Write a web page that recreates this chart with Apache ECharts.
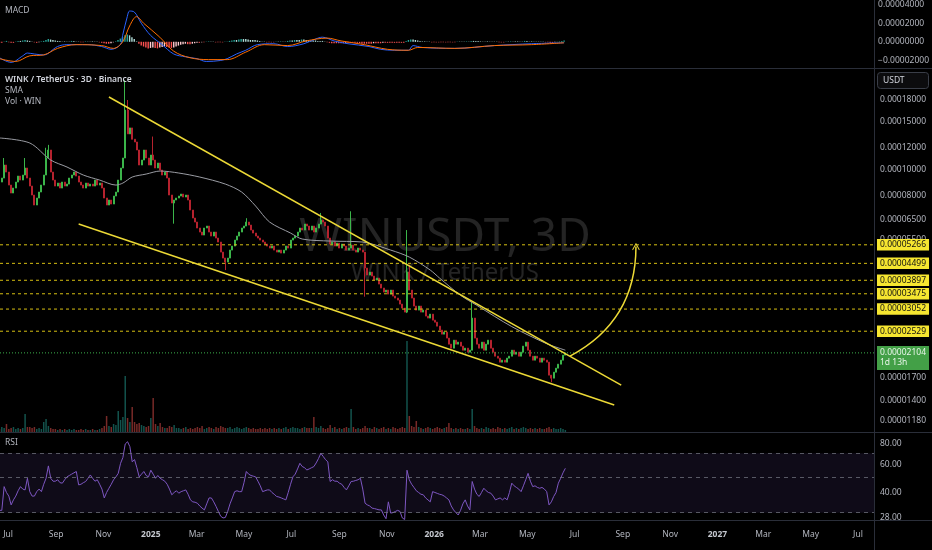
<!DOCTYPE html>
<html><head><meta charset="utf-8">
<script src="https://cdn.jsdelivr.net/npm/echarts@6/dist/echarts.min.js"></script>
<style>html,body{margin:0;padding:0;background:#000;}#c{width:932px;height:550px;}</style>
</head><body><div id="c"></div>
<script>
// ---- data (prices in units of 1e-8 USDT) ----
const startDate = '2024-06-20';
const stepDays = 3;
const firstOpen = 9100;
const closes = [8970,9280,10364,9765,8744,8172,8525,8970,9439,9123,
9520,10104,9280,8671,8034,7380,7832,8241,8744,9520,
11000,11772,9765,9123,8671,8894,8525,8970,8671,8818,
9280,9520,9765,9439,8970,8744,8525,8894,8671,8818,
8671,9123,8744,8894,8525,7832,7380,7700,7443,7966,
8241,9123,10104,11000,16535,13500,14200,12900,12603,11772,
10364,10813,11772,11000,10364,11284,10813,10104,10542,9932,
9520,9765,9280,8034,7507,7700,7832,7966,8102,7899,
8034,7700,7073,6609,6388,6071,5868,5720,6071,6175,
5868,5672,5868,5576,5390,4950,4705,4548,4705,5035,
5210,5482,5672,5868,6071,6175,6388,6227,5968,5818,
5672,5576,5482,5390,5299,5210,5122,5210,5035,4950,
5035,4909,5035,5210,5122,5482,5576,5672,5868,6071,
5968,6280,6175,5968,6175,5868,6071,6280,6497,6388,
6175,5576,5299,5390,5210,5344,5122,5299,5210,5035,
5122,5254,5035,4950,5122,5035,4950,4322,4073,4178,
4038,3903,3970,3773,3647,3525,3585,3465,3585,3407,
3350,3293,3183,3077,2974,4178,3585,3350,3130,3025,
3130,2974,3025,2875,2827,2924,2778,2731,2640,2552,
2467,2509,2385,2266,2190,2344,2266,2305,2228,2153,
2190,2117,2153,2827,2385,2266,2190,2305,2153,2266,
2344,2190,2117,2046,2012,1945,1978,1945,2012,2046,
2153,2081,2117,2046,2117,2228,2305,2153,2046,1978,
2046,2012,1945,2012,1978,1945,1742,1698,1786,1848,
1912,1978,2064,2104];
const wickHighIdx = [2,11,20,21,54,55,66,106,138,151,175,176,203];
const wickHighVal = [11000,11000,12000,12300,21300,18000,13200,6600,6900,7000,5968,4450,3240];
const wickLowIdx = [75,97,157,175,237];
const wickLowVal = [6300,4249,3390,2950,1640];
const volumes = [3,5,4,8,3,4,5,3,4,3,
4,18,5,5,4,5,3,4,3,10,
13,6,4,3,3,2,3,2,3,2,
3,2,3,2,2,3,2,3,2,2,
3,2,2,3,4,6,16,6,5,8,
7,21,12,15,56,14,10,25,10,8,
9,7,6,5,6,14,34,8,6,9,
5,4,4,6,5,7,4,4,3,4,
5,3,4,3,4,5,4,6,3,4,
5,4,3,5,4,6,5,4,4,5,
3,4,5,4,3,4,5,4,3,4,
3,3,4,3,4,3,4,3,4,3,
4,3,4,5,3,4,5,4,4,3,
4,5,4,4,4,15,5,4,6,4,
3,4,7,4,5,3,4,3,4,5,
4,23,5,3,4,3,4,6,4,4,
3,5,4,3,4,5,3,4,3,5,
4,3,4,5,4,91,16,6,5,11,
5,4,3,4,5,4,3,4,5,4,
3,4,5,9,4,3,4,3,4,3,
3,4,3,23,6,4,3,4,3,5,
4,3,4,3,5,4,3,4,3,4,
5,3,4,3,4,5,4,3,4,3,
4,3,4,3,3,4,5,3,4,3,
3,4,3,2];
const rsi = [31,31,43.5,40,38,33.5,36,38,41,43.5,
42,41.5,49,40.5,38,38,40.5,42,40.5,45,
49,58.5,49,47,47,48,46,45.7,48,50,
51,52,53,54,44.6,45,46,46.8,49,51.4,
49,47,48,45,42,37,40,42.5,45,48,
50,52.6,60.7,66,80,82.6,77,62,64,57,
50,52,54,51,50,55,52,49,51,49,
48,47,45,42,38.7,40,41,39.6,40.5,41,
41.5,39,36,35,34.8,34.3,33,32,31.2,34,
37,37,35,32.8,30.5,28.5,27.8,28,30.5,34,
37,40.5,41,40.5,40.5,46,54,52,51,50.5,
50,47,44,40.5,41,41.5,41.5,40,39,37.8,
37.5,37,36.5,36,40,45,50,52,56,60.7,
58,57,55.2,56,57,57.9,61,65,70,67,
64,62,46.8,48,47,47,45.7,45,43,41.5,
44,46.8,47,47.5,48,49,42,34.3,33.5,33,
32,31.8,31.5,31.2,31.2,29,27.5,35,29.8,30,
30.5,31,30.5,27.8,27.2,55,47.9,45,43,41,
40,39,38.7,37,36,35,40.5,40,39.5,39,
38.7,38,37,36,33,31.2,30,29,31,34,
36,33,31.2,46.8,42,39,37.8,40,42.5,41,
40,39.6,38,36,36.5,37,36,37,36,40,
45.7,44,43,42,40.5,44,48,52.6,47,43.5,
44,43,42.5,43,42,40.5,33.5,35,37.8,40,
45.7,49,53,56.5];
// MACD values in units of 1e-6
const macdIdx = [0,5,10,12,15,19,25,29,38,44,48,52,53,55,56,58,61,65,70,75,80,85,89,95,98,102,106,111,118,124,131,136,139,144,150,159,164,170,176,178,182,196,213,229,243];
const macdVal = [-17,-22,-15,-12,-13,-14,-5,-3,-3,-5,-8,-3,7,27,33,32,20,7,-3,-13,-16,-18,-21,-20,-18,-13,-9,-3,-2,-5,-2,3,5,1,-2,-5,-8,-9,-9,-4,-6,-7,-4,-2,-1];
const signalIdx = [0,7,13,19,25,33,44,49,53,56,59,62,69,75,82,90,98,106,114,124,132,141,147,157,167,176,180,196,213,229,243];
const signalVal = [-18,-21,-15,-14,-7,-3,-4,-7,0,17,27,20,5,-10,-17,-19,-19,-11,-3,-4,1,4,1,-3,-8,-9,-6,-7,-4,-3,-1];
const histVal = [-1,-1,0.5,1,-0.5,-1,-1,0.5,1,1,
1.5,2,1.5,1,0.5,-0.5,-1,-0.5,0.5,1,
2,3,2.5,2,1.5,1,1,0.5,0.5,0.5,
0.5,1,1,0.5,0.3,-0.5,-0.5,0.5,0.5,0.5,
0.5,0.5,0.3,-0.5,-1,-1.5,-2,-2,-1.5,-0.5,
0.5,2,3.5,5,7,8,7,5,3,0.5,
-2,-4,-5,-6,-7,-6.5,-6,-6.5,-7,-6,
-5.5,-5,-5.5,-6,-6.5,-6,-5,-4,-3,-2.5,
-2,-2.5,-2.5,-2,-1.5,-1,-1,-0.5,-0.5,0.3,
0.5,0.5,0.3,-0.5,-0.5,-0.5,-0.5,0.3,0.5,1,
1.5,2,2,2.5,3,3,3,2.5,2,2,
2,1.5,1,0.5,0.3,-0.5,-0.5,-0.5,-0.5,0.3,
0.3,0.5,0.5,0.5,1,1.5,1.5,2,2,2,
2.5,2.5,2,2,1.5,1.5,1.5,1,1,1,
0.5,-0.5,-1,-1.5,-1.5,-1.5,-1.5,-1.5,-1.5,-1,
-1,-1,-1,-1,-1,-1.5,-2,-2,-2,-2,
-2,-1.5,-1.5,-1.5,-1.5,-1,-1,-1,-1,-1,
-1,-1,-1,-1,-1,1,2,2.5,2.5,2,
1.5,1,0.5,0.5,0.3,0.3,-0.5,-0.5,-0.5,-0.5,
-0.5,-0.5,-0.5,-0.5,-0.5,-0.5,-0.5,0.3,0.3,0.3,
0.3,0.5,0.5,1,1,1,1,0.5,0.5,0.5,
0.5,0.5,0.3,0.3,0.3,-0.5,-0.5,-0.5,0.3,0.3,
0.5,0.5,0.5,0.5,0.5,0.5,1,1,0.5,0.5,
0.5,0.3,0.3,0.3,0.3,-0.5,-0.5,-1,-1,-0.5,
0.3,0.5,1,1.5];
const smaIdx = [0,13,22,29,36,43,50,53,57,63,69,77,86,97,104,110,116,125,130,142,156,168,176,185,189,198,205,220,235,243];
const smaVal = [13040,12496,10813,10190,9520,9123,8744,8894,9360,9600,9850,9685,9360,8818,8241,7318,6388,5818,5530,5436,5390,5035,4745,4249,3970,3430,3150,2630,2275,2153];
const priceTicks = [18000,15000,12000,10000,8000,6500,5500,1700,1400,1180];
const levels = [5266,4499,3897,3475,3052,2529];
const lastPrice = 2104;
const lastCountdown = '1d 13h';
const macdTicks = [-20,0,20,40];
const rsiTicks = [80,60,40,28];
const rsiBands = [70,50,30];
const monthTicks = ['2024-07-01','2024-09-01','2024-11-01','2025-01-01','2025-03-01','2025-05-01','2025-07-01','2025-09-01','2025-11-01','2026-01-01','2026-03-01','2026-05-01','2026-07-01','2026-09-01','2026-11-01','2027-01-01','2027-03-01','2027-05-01','2027-07-01'];
const trendUpper = [['2024-11-08',18464],['2026-08-30',1600]];
const trendLower = [['2024-09-30',6280],['2026-08-21',1351]];
const arrowPath = [['2026-06-25',2046],['2026-09-18',5188]];

// ---- build ----
const DAY = 864e5;
const t = s => Date.parse(s + 'T00:00:00Z');
const t0 = t(startDate);
const dates = closes.map((_, i) => t0 + i * stepDays * DAY);
const xMin = t0 + 16 * 3600e3;
const xMax = xMin + 1126 * DAY;
const fmtP = v => (v / 1e8).toFixed(8);
const MONTHS = ['Jan','Feb','Mar','Apr','May','Jun','Jul','Aug','Sep','Oct','Nov','Dec'];
const UP = '#3bb54a', DOWN = '#b5222e';
const YEL = '#ecd936';
const LVL = '#d6bf12';
const FONT = 'Noto Sans, sans-serif';
const AX = '#b2b5be';

const candles = closes.map((c, i) => {
  const o = i === 0 ? firstOpen : closes[i - 1];
  let hi = Math.max(o, c), lo = Math.min(o, c);
  const hk = wickHighIdx.indexOf(i); if (hk >= 0) hi = wickHighVal[hk];
  const lk = wickLowIdx.indexOf(i); if (lk >= 0) lo = wickLowVal[lk];
  return [dates[i], o, c, lo, hi];
});
const volData = volumes.map((v, i) => ({
  value: [dates[i], v],
  itemStyle: { color: candles[i][2] >= candles[i][1] ? 'rgba(38,166,154,0.5)' : 'rgba(239,83,80,0.5)' }
}));
const histData = histVal.map((h, i) => {
  const p = i === 0 ? h : histVal[i - 1];
  const col = h >= 0 ? (h > p ? '#26a69a' : '#b2dfdb') : (h > p ? '#ffcdd2' : '#ff5252');
  return { value: [dates[i], h], itemStyle: { color: col } };
});
const pts = (idx, val) => idx.map((k, j) => [dates[k], val[j]]);
const CLEAR = 'rgba(0,0,0,0)';
const tickLabel = { show: true, position: 'end', distance: 6, color: AX, fontSize: 8.5, fontFamily: FONT };

// horizontal level lines as full-width line series (value across the whole axis range)
const hLine = (v, color, dash, z) => ({
  type: 'line', xAxisIndex: 1, yAxisIndex: 1, silent: true, showSymbol: false, z: z,
  data: [[xMin, v], [xMax, v]], lineStyle: { color: color, type: dash, width: 1 }, itemStyle: { color: color }
});
const levelSeries = levels.map(v => hLine(v, LVL, [3, 3], 5));
const lastSeries = hLine(lastPrice, '#3cb04c', [1, 2], 5);

const xBase = { type: 'value', min: xMin, max: xMax, show: false };
const chart = echarts.init(document.getElementById('c'), null, { renderer: 'canvas' });
chart.setOption({
  backgroundColor: '#000',
  animation: false,
  textStyle: { fontFamily: FONT },
  grid: [
    { left: 0, right: 58, top: 0, height: 68 },
    { left: 0, right: 58, top: 69, height: 363 },
    { left: 0, right: 58, top: 332, height: 100 },
    { left: 0, right: 58, top: 433, height: 87 }
  ],
  xAxis: [
    Object.assign({ gridIndex: 0 }, xBase),
    Object.assign({ gridIndex: 1 }, xBase),
    Object.assign({ gridIndex: 2 }, xBase),
    { gridIndex: 3, type: 'value', min: xMin, max: xMax,
      axisLine: { show: false }, axisTick: { show: false }, splitLine: { show: false },
      axisLabel: {
        customValues: monthTicks.map(t), margin: 10, color: AX, fontSize: 8.5, fontFamily: FONT,
        formatter: v => { const d = new Date(v); const m = d.getUTCMonth(); return m === 0 ? '{y|' + d.getUTCFullYear() + '}' : MONTHS[m]; },
        rich: { y: { fontWeight: 'bold', color: '#c4c7ce', fontSize: 8.5, fontFamily: FONT } }
      } }
  ],
  yAxis: [
    { gridIndex: 0, type: 'value', position: 'right', min: -28, max: 40,
      axisLine: { show: false }, axisTick: { show: false }, splitLine: { show: false },
      axisLabel: { customValues: macdTicks, margin: 6, color: AX, fontSize: 8.5, fontFamily: FONT,
        formatter: v => (v < 0 ? '\u2212' : '') + (Math.abs(v) / 1e6).toFixed(8) } },
    { gridIndex: 1, type: 'log', position: 'right', min: 1075, max: 23418,
      axisLine: { show: false }, axisTick: { show: false }, splitLine: { show: false }, axisLabel: { show: false } },
    { gridIndex: 2, type: 'value', min: 0, max: 100, show: false },
    { gridIndex: 3, type: 'log', position: 'right', min: 27, max: 93.6,
      axisLine: { show: false }, axisTick: { show: false }, splitLine: { show: false }, axisLabel: { show: false } }
  ],
  series: [
    { type: 'bar', xAxisIndex: 0, yAxisIndex: 0, data: histData, barWidth: 1.4, z: 1 },
    { type: 'line', xAxisIndex: 0, yAxisIndex: 0, data: pts(macdIdx, macdVal), smooth: 0.35, showSymbol: false, lineStyle: { color: '#2962ff', width: 1 }, z: 3 },
    { type: 'line', xAxisIndex: 0, yAxisIndex: 0, data: pts(signalIdx, signalVal), smooth: 0.35, showSymbol: false, lineStyle: { color: '#ff6d00', width: 1 }, z: 3 },
    { type: 'bar', xAxisIndex: 2, yAxisIndex: 2, data: volData, barWidth: 1.5, z: 1 },
    { type: 'candlestick', xAxisIndex: 1, yAxisIndex: 1, data: candles, barWidth: 1.5, z: 3,
      itemStyle: { color: UP, color0: DOWN, borderColor: UP, borderColor0: DOWN, borderWidth: 1 } },
    ...levelSeries,
    lastSeries,
    { type: 'line', xAxisIndex: 1, yAxisIndex: 1, data: pts(smaIdx, smaVal), smooth: 0.3, showSymbol: false, lineStyle: { color: '#9a9ca3', width: 1 }, z: 4,
      markLine: { silent: true, symbol: 'none', animation: false,
        lineStyle: { color: CLEAR, width: 1 },
        label: { show: true, position: 'end', distance: 3, color: '#e8f5e9', backgroundColor: '#43a047', padding: [2, 3, 2, 3], lineHeight: 10, fontSize: 8.5, fontFamily: FONT, offset: [0, 5],
          formatter: fmtP(lastPrice) + '\n' + lastCountdown },
        data: [{ yAxis: lastPrice }] } },
    { type: 'line', xAxisIndex: 1, yAxisIndex: 1, data: trendUpper.map(p => [t(p[0]), p[1]]), showSymbol: false, lineStyle: { color: YEL, width: 1.5 }, z: 6,
      markLine: { silent: true, symbol: 'none', animation: false,
        lineStyle: { color: CLEAR, width: 1 },
        label: Object.assign({ formatter: p => fmtP(p.value) }, tickLabel),
        data: priceTicks.map(v => ({ yAxis: v })) } },
    { type: 'line', xAxisIndex: 1, yAxisIndex: 1, data: trendLower.map(p => [t(p[0]), p[1]]), showSymbol: false, lineStyle: { color: YEL, width: 1.5 }, z: 7,
      markLine: { silent: true, symbol: 'none', animation: false,
        lineStyle: { color: CLEAR, width: 1 },
        label: { show: true, position: 'end', distance: 3, color: '#111', backgroundColor: '#f6e630', padding: [1.5, 3, 1, 3], fontSize: 8.5, fontFamily: FONT, formatter: p => fmtP(p.value) },
        data: levels.map(v => ({ yAxis: v })) } },
    { type: 'lines', coordinateSystem: 'cartesian2d', xAxisIndex: 1, yAxisIndex: 1, z: 6,
      symbol: ['none', 'path://M0,7 L7,0 L14,7 L12.7,7.8 L7,2.1 L1.3,7.8 Z'], symbolSize: [14, 7.5],
      lineStyle: { color: YEL, width: 1.5, curveness: -0.3, opacity: 1 },
      data: [{ coords: arrowPath.map(p => [t(p[0]), p[1]]) }] },
    { type: 'line', xAxisIndex: 3, yAxisIndex: 3, data: rsi.map((v, i) => [dates[i], v]), showSymbol: false, lineStyle: { color: '#7e57c2', width: 1 }, z: 4,
      markArea: { silent: true, itemStyle: { color: 'rgba(126,87,194,0.12)' }, data: [[{ yAxis: 70 }, { yAxis: 30 }]] },
      markLine: { silent: true, symbol: 'none', animation: false,
        lineStyle: { color: '#787b86', type: [4, 4], width: 1, opacity: 0.7 }, label: { show: false },
        data: rsiBands.map(v => ({ yAxis: v })) } },
    { type: 'line', xAxisIndex: 3, yAxisIndex: 3, data: [], showSymbol: false, z: 4,
      markLine: { silent: true, symbol: 'none', animation: false,
        lineStyle: { color: CLEAR, width: 1 },
        label: Object.assign({ formatter: p => Number(p.value).toFixed(2) }, tickLabel),
        data: rsiTicks.map(v => ({ yAxis: v })) } }
  ],
  graphic: [
    { type: 'text', z: 0, x: 445, y: 238, style: { text: 'WINUSDT, 3D', fill: '#242424', font: '46px Noto Sans, sans-serif', align: 'center', verticalAlign: 'middle' } },
    { type: 'text', z: 0, x: 445, y: 273, style: { text: 'WINK / TetherUS', fill: '#242424', font: '24px Noto Sans, sans-serif', align: 'center', verticalAlign: 'middle' } },
    { type: 'line', z: 50, shape: { x1: 0, y1: 68.5, x2: 932, y2: 68.5 }, style: { stroke: '#2a2e39', lineWidth: 1 } },
    { type: 'line', z: 50, shape: { x1: 0, y1: 432.5, x2: 932, y2: 432.5 }, style: { stroke: '#2a2e39', lineWidth: 1 } },
    { type: 'line', z: 50, shape: { x1: 0, y1: 520.5, x2: 932, y2: 520.5 }, style: { stroke: '#2a2e39', lineWidth: 1 } },
    { type: 'line', z: 50, shape: { x1: 874.5, y1: 0, x2: 874.5, y2: 550 }, style: { stroke: '#2a2e39', lineWidth: 1 } },
    { type: 'rect', z: 50, shape: { x: 877.5, y: 72.5, width: 51, height: 16, r: 3 }, style: { fill: '#0c0c0e', stroke: '#3a3e48', lineWidth: 1 } },
    { type: 'text', z: 51, x: 883, y: 81, style: { text: 'USDT', fill: '#d1d4dc', font: '8.5px Noto Sans, sans-serif', verticalAlign: 'middle' } },
    { type: 'text', z: 51, x: 5, y: 11, style: { text: 'MACD', fill: '#b2b5be', font: '8.5px Noto Sans, sans-serif', verticalAlign: 'middle' } },
    { type: 'text', z: 51, x: 5, y: 80, style: { text: 'WINK / TetherUS \u00b7 3D \u00b7 Binance', fill: '#d1d4dc', font: '600 8.5px Noto Sans, sans-serif', verticalAlign: 'middle' } },
    { type: 'text', z: 51, x: 5, y: 91, style: { text: 'SMA', fill: '#b2b5be', font: '8.5px Noto Sans, sans-serif', verticalAlign: 'middle' } },
    { type: 'text', z: 51, x: 5, y: 102, style: { text: 'Vol \u00b7 WIN', fill: '#b2b5be', font: '8.5px Noto Sans, sans-serif', verticalAlign: 'middle' } },
    { type: 'text', z: 51, x: 5, y: 443, style: { text: 'RSI', fill: '#b2b5be', font: '8.5px Noto Sans, sans-serif', verticalAlign: 'middle' } }
  ]
});
</script>
</body></html>
